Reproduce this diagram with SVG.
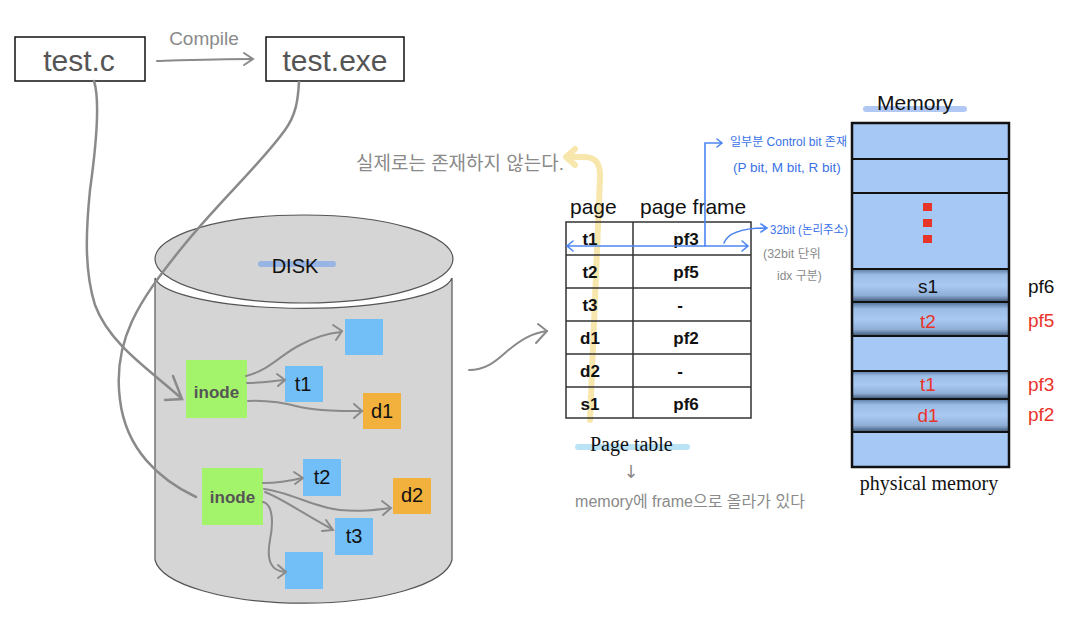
<svg xmlns="http://www.w3.org/2000/svg" width="1084" height="626" viewBox="0 0 1084 626">
<defs>
<style>
.box{fill:#fff;stroke:#111;stroke-width:1.5}
.big{font-family:"Liberation Sans",Arial,sans-serif;font-size:30px;fill:#555}
.conn{fill:none;stroke:#8a8a8a;stroke-width:2.5;stroke-linecap:round}
.thin{fill:none;stroke:#8a8a8a;stroke-width:2;stroke-linecap:round}
.hand{font-family:"Liberation Sans","Noto Sans CJK KR",sans-serif;fill:#8a8a8a}
.handb{font-family:"Liberation Sans","Noto Sans CJK KR",sans-serif;fill:#3a72e6}
.ink{font-family:"Liberation Sans",sans-serif;font-size:20px;fill:#111}
.green{fill:#a3f36b}
.blue{fill:#72bff8}
.orange{fill:#f2b03c}
.inode{font-family:"Liberation Sans",Arial,sans-serif;font-size:17px;font-weight:bold;fill:#555}
.pt{font-family:"Liberation Sans",Arial,sans-serif;font-size:17px;font-weight:bold;fill:#111}
.ph{font-family:"Liberation Sans",Arial,sans-serif;font-size:21px;fill:#111}
.grid{stroke:#333;stroke-width:1.5;fill:none}
.mem{fill:#a6c8f5}
.memline{stroke:#111;stroke-width:2.2}
.ml{font-family:"Liberation Sans",Arial,sans-serif;font-size:19px}
.serif{font-family:"Liberation Serif","Times New Roman",serif;font-size:20px;fill:#111}
.bl{fill:none;stroke:#4d86f0;stroke-width:1.6;stroke-linecap:round}
</style>
<linearGradient id="sh" x1="0" y1="0" x2="0" y2="1">
<stop offset="0" stop-color="#5b7aa0"/>
<stop offset="0.18" stop-color="#9cbde6"/>
<stop offset="0.5" stop-color="#a9c9f3"/>
<stop offset="0.8" stop-color="#8eaed6"/>
<stop offset="1" stop-color="#3b5271"/>
</linearGradient>
</defs>

<g id="disk">
<path d="M155,278 A149,33 0 0,0 452,278 L452,560 A149,47 0 0,1 155,560 Z" fill="#d5d5d5" stroke="#555" stroke-width="1.2"/>
<ellipse cx="304" cy="259" rx="149" ry="44" fill="#d5d5d5" stroke="#555" stroke-width="1.2"/>
<rect x="258" y="261" width="78" height="6" rx="3" fill="#7fa6e8" opacity="0.7"/>
<text x="295" y="273" text-anchor="middle" class="ink">DISK</text>
</g>

<g id="test-c">
<rect class="box" x="15" y="37" width="130" height="44"/>
<text class="big" x="79" y="71" text-anchor="middle">test.c</text>
</g>
<g id="test-exe">
<rect class="box" x="266" y="37" width="138" height="44"/>
<text class="big" x="335" y="71" text-anchor="middle">test.exe</text>
</g>
<text class="hand" x="204" y="45" font-size="19" text-anchor="middle">Compile</text>

<g id="inode1">
<rect class="green" x="186" y="360" width="61" height="58"/>
<text class="inode" x="216.5" y="398" text-anchor="middle">inode</text>
</g>
<g id="inode2">
<rect class="green" x="202" y="468" width="61" height="57"/>
<text class="inode" x="232.5" y="503" text-anchor="middle">inode</text>
</g>
<g id="blk-top"><rect class="blue" x="345" y="319" width="38" height="36"/></g>
<g id="blk-t1"><rect class="blue" x="285" y="366" width="38" height="36"/><text class="ink" x="303" y="391" text-anchor="middle">t1</text></g>
<g id="blk-d1"><rect class="orange" x="363" y="393" width="38" height="36"/><text class="ink" x="382" y="418" text-anchor="middle">d1</text></g>
<g id="blk-t2"><rect class="blue" x="303" y="459" width="38" height="37"/><text class="ink" x="322" y="484" text-anchor="middle">t2</text></g>
<g id="blk-d2"><rect class="orange" x="393" y="478" width="38" height="36"/><text class="ink" x="412" y="502" text-anchor="middle">d2</text></g>
<g id="blk-t3"><rect class="blue" x="335" y="518" width="38" height="37"/><text class="ink" x="354" y="543" text-anchor="middle">t3</text></g>
<g id="blk-bottom"><rect class="blue" x="285" y="552" width="38" height="37"/></g>

<g id="connectors">
<path class="thin" d="M157,61 C190,60 220,59 252,59"/>
<path class="thin" d="M244,53 L253,59 L244,65"/>
<path class="conn" d="M94,81 C100,100 97,140 90,190 C86,230 84,270 95,305 C110,345 150,370 181,398"/>
<path class="conn" d="M165,400 L182,399 L173,376"/>
<path class="conn" d="M299,82 C298,100 296,115 285,130 C260,165 220,200 180,250 C140,300 112,340 120,400 C126,450 160,480 196,497"/>
<path class="thin" d="M246,376 C270,370 280,355 300,345 C315,337 330,333 341,332"/>
<path class="thin" d="M333,325 L342,331 L336,340"/>
<path class="thin" d="M247,383 C262,383 272,381 284,380"/>
<path class="thin" d="M277,374 L285,380 L278,386"/>
<path class="thin" d="M248,401 C270,400 285,403 300,407 C320,411 340,411 362,411"/>
<path class="thin" d="M354,404 L362,411 L354,418"/>
<path class="thin" d="M263,483 C278,483 290,481 302,478"/>
<path class="thin" d="M294,472 L303,478 L295,484"/>
<path class="thin" d="M264,489 C290,492 315,508 340,510 C360,512 375,510 390,508"/>
<path class="thin" d="M382,501 L391,508 L383,515"/>
<path class="thin" d="M265,492 C285,500 305,515 332,529"/>
<path class="thin" d="M326,520 L333,530 L322,531"/>
<path class="thin" d="M263,502 C272,504 274,520 270,540 C266,562 272,571 285,572"/>
<path class="thin" d="M278,565 L286,572 L278,578"/>
<path class="thin" d="M469,370 C485,370 495,362 505,353 C520,340 532,333 547,331"/>
<path class="thin" d="M538,324 L547,331 L536,343"/>
</g>

<text class="hand" x="460" y="170" font-size="19" text-anchor="middle">실제로는 존재하지 않는다.</text>
<path d="M590,420 L600,178 Q601,157 585,157 L568,157 M575,149 L566,157 L575,165" fill="none" stroke="#f6df92" stroke-width="6" stroke-linecap="round" stroke-linejoin="round" opacity="0.75"/>

<g id="page-table">
<text class="ph" x="570" y="214">page</text>
<text class="ph" x="640" y="214">page frame</text>
<rect class="grid" x="566" y="222" width="185" height="196"/>
<line class="grid" x1="633" y1="222" x2="633" y2="418"/>
<line class="grid" x1="566" y1="255" x2="751" y2="255"/>
<line class="grid" x1="566" y1="288" x2="751" y2="288"/>
<line class="grid" x1="566" y1="321" x2="751" y2="321"/>
<line class="grid" x1="566" y1="354" x2="751" y2="354"/>
<line class="grid" x1="566" y1="387" x2="751" y2="387"/>
<text class="pt" x="590" y="245" text-anchor="middle">t1</text><text class="pt" x="686" y="245" text-anchor="middle">pf3</text>
<text class="pt" x="590" y="278" text-anchor="middle">t2</text><text class="pt" x="686" y="278" text-anchor="middle">pf5</text>
<text class="pt" x="590" y="311" text-anchor="middle">t3</text><text class="pt" x="680" y="311" text-anchor="middle">-</text>
<text class="pt" x="590" y="344" text-anchor="middle">d1</text><text class="pt" x="686" y="344" text-anchor="middle">pf2</text>
<text class="pt" x="590" y="377" text-anchor="middle">d2</text><text class="pt" x="680" y="377" text-anchor="middle">-</text>
<text class="pt" x="590" y="410" text-anchor="middle">s1</text><text class="pt" x="686" y="410" text-anchor="middle">pf6</text>
<rect x="575" y="444" width="115" height="6" rx="3" fill="#a9dcf2" opacity="0.8"/>
<text class="serif" x="590" y="451">Page table</text>
</g>

<g id="annotations">
<path class="bl" d="M568,246 L748,246 M573,241 L567,246 L573,251 M742,241 L748,246 L742,251"/>
<path class="bl" d="M705,246 L705,143 L722,143 M717,139 L722,143 L717,147"/>
<path class="bl" d="M724,243 C728,232 745,228 767,228 M761,224 L767,228 L761,232"/>
<text class="handb" x="730" y="146" font-size="12" textLength="117" lengthAdjust="spacingAndGlyphs">일부분 Control bit 존재</text>
<text class="handb" x="733" y="172" font-size="13.5">(P bit, M bit, R bit)</text>
<text class="handb" x="770" y="234" font-size="12" textLength="78" lengthAdjust="spacingAndGlyphs">32bit (논리주소)</text>
<text class="hand" x="763" y="258" font-size="12.5">(32bit 단위</text>
<text class="hand" x="777" y="280" font-size="12">idx 구분)</text>
<text x="631" y="478" font-family="'DejaVu Sans',sans-serif" font-size="18" fill="#8a8a8a" text-anchor="middle">↓</text>
<text class="hand" x="690" y="507" font-size="16" text-anchor="middle">memory에 frame으로 올라가 있다</text>
</g>

<g id="memory">
<rect x="863" y="106" width="104" height="6" rx="3" fill="#8fb0ee" opacity="0.7"/>
<text x="915" y="110" text-anchor="middle" font-family="'Liberation Sans',sans-serif" font-size="21" fill="#111">Memory</text>
<rect class="mem" x="852" y="123" width="157" height="344"/>
<rect fill="url(#sh)" x="852" y="269" width="157" height="33"/>
<rect fill="url(#sh)" x="852" y="303" width="157" height="33"/>
<rect fill="url(#sh)" x="852" y="371" width="157" height="28"/>
<rect fill="url(#sh)" x="852" y="399" width="157" height="33"/>
<line class="memline" x1="852" y1="159" x2="1009" y2="159"/>
<line class="memline" x1="852" y1="193" x2="1009" y2="193"/>
<line class="memline" x1="852" y1="269" x2="1009" y2="269"/>
<line class="memline" x1="852" y1="302" x2="1009" y2="302"/>
<line class="memline" x1="852" y1="336" x2="1009" y2="336"/>
<line class="memline" x1="852" y1="371" x2="1009" y2="371"/>
<line class="memline" x1="852" y1="399" x2="1009" y2="399"/>
<line class="memline" x1="852" y1="432" x2="1009" y2="432"/>
<rect x="852" y="123" width="157" height="344" fill="none" stroke="#111" stroke-width="2.5"/>
<rect x="923" y="203" width="9" height="8" fill="#e8352a"/>
<rect x="923" y="219" width="9" height="8" fill="#e8352a"/>
<rect x="923" y="235" width="9" height="8" fill="#e8352a"/>
<text class="ml" x="928" y="293" text-anchor="middle" fill="#111">s1</text>
<text class="ml" x="928" y="328" text-anchor="middle" fill="#e8352a">t2</text>
<text class="ml" x="928" y="391" text-anchor="middle" fill="#e8352a">t1</text>
<text class="ml" x="928" y="422" text-anchor="middle" fill="#e8352a">d1</text>
<text class="ml" x="1028" y="293" fill="#111">pf6</text>
<text class="ml" x="1028" y="327" fill="#e8352a">pf5</text>
<text class="ml" x="1028" y="391" fill="#e8352a">pf3</text>
<text class="ml" x="1028" y="421" fill="#e8352a">pf2</text>
<text class="serif" x="929" y="490" text-anchor="middle">physical memory</text>
</g>
</svg>
